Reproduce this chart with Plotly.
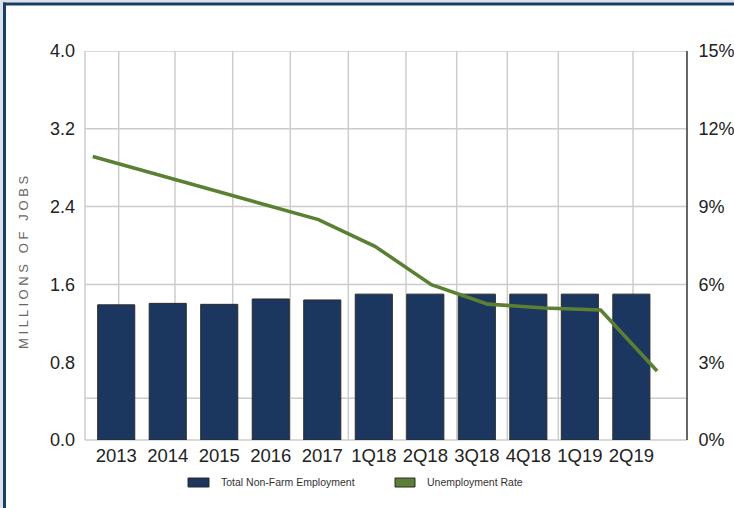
import plotly.graph_objects as go

categories = ["2013", "2014", "2015", "2016", "2017", "1Q18", "2Q18", "3Q18", "4Q18", "1Q19", "2Q19"]
employment = [1.39, 1.405, 1.395, 1.45, 1.44, 1.50, 1.50, 1.50, 1.50, 1.50, 1.50]
unemployment = [10.93, 10.32, 9.71, 9.10, 8.50, 7.47, 5.99, 5.24, 5.09, 5.01, 2.66]
left_ticks = [0.0, 0.8, 1.6, 2.4, 3.2, 4.0]
right_ticks = [0, 3, 6, 9, 12, 15]
series_names = ["Total Non-Farm Employment", "Unemployment Rate"]

W, H = 734, 508
L, R, T, B = 85, 47, 51, 68
PW, PH = W - L - R, H - T - B


def px(x):
    return (x - L) / PW


def py(y):
    return (H - B - y) / PH


BAR_COLOR = "#1b375f"
LINE_COLOR = "#5b8033"
GRID = "#cccccc"
FONT = "Liberation Sans, Arial, sans-serif"

fig = go.Figure()
fig.add_trace(go.Bar(
    x=categories, y=employment, name=series_names[0],
    marker=dict(color=BAR_COLOR, line=dict(color="#2b2b2b", width=1)),
    width=0.72, xaxis="x", yaxis="y", showlegend=False,
))
fig.add_trace(go.Scatter(
    x=categories, y=unemployment, name=series_names[1], mode="lines",
    line=dict(color=LINE_COLOR, width=3.6),
    xaxis="x2", yaxis="y2", showlegend=False,
))

shapes = []
# vertical grid lines (pixel positions of the reference grid)
for gx in [118.7, 175, 232.7, 290.3, 348.3, 406, 456.7, 507.3, 558.3, 633]:
    shapes.append(dict(type="line", xref="paper", yref="paper", x0=px(gx), x1=px(gx), y0=0, y1=1,
                       line=dict(color=GRID, width=1.5), layer="below"))
# horizontal grid lines
for gv in [0.43, 1.6, 2.4, 3.2, 4.0]:
    shapes.append(dict(type="line", xref="paper", yref="y", x0=0, x1=1, y0=gv, y1=gv,
                       line=dict(color=GRID, width=1.5), layer="below"))
# plot frame left / bottom (light), right axis (dark)
shapes.append(dict(type="line", xref="paper", yref="paper", x0=0, x1=0, y0=0, y1=1,
                   line=dict(color=GRID, width=1.5), layer="below"))
shapes.append(dict(type="line", xref="paper", yref="paper", x0=0, x1=1, y0=0, y1=0,
                   line=dict(color=GRID, width=1.5), layer="below"))
shapes.append(dict(type="line", xref="paper", yref="paper", x0=1, x1=1, y0=0, y1=1,
                   line=dict(color="#333333", width=1.5)))
# outer frame
shapes.append(dict(type="rect", xref="paper", yref="paper", x0=px(-5), x1=px(740), y0=py(-5), y1=py(2.5),
                   fillcolor="#dbe2ea", line=dict(width=0)))
shapes.append(dict(type="rect", xref="paper", yref="paper", x0=px(-5), x1=px(3), y0=py(515), y1=py(-5),
                   fillcolor="#dbe2ea", line=dict(width=0)))
shapes.append(dict(type="rect", xref="paper", yref="paper", x0=px(3), x1=px(740), y0=py(5.5), y1=py(2.5),
                   fillcolor="#1c3d63", line=dict(width=0)))
shapes.append(dict(type="rect", xref="paper", yref="paper", x0=px(3), x1=px(6), y0=py(515), y1=py(2.5),
                   fillcolor="#1c3d63", line=dict(width=0)))
# legend swatches
shapes.append(dict(type="rect", xref="paper", yref="paper", x0=px(188), x1=px(209), y0=py(487), y1=py(478),
                   fillcolor=BAR_COLOR, line=dict(color="#2b2b2b", width=1)))
shapes.append(dict(type="rect", xref="paper", yref="paper", x0=px(395), x1=px(415), y0=py(487), y1=py(478),
                   fillcolor=LINE_COLOR, line=dict(color="#2b2b2b", width=1)))

annotations = [
    dict(text=series_names[0], xref="paper", yref="paper", x=px(219), y=py(482.5), xanchor="left",
         yanchor="middle", showarrow=False, font=dict(family=FONT, size=10.5, color="#333333")),
    dict(text=series_names[1], xref="paper", yref="paper", x=px(425), y=py(482.5), xanchor="left",
         yanchor="middle", showarrow=False, font=dict(family=FONT, size=10.5, color="#333333")),
    dict(text="M I L L I O N S   O F   J O B S", xref="paper", yref="paper", x=px(23), y=py(263),
         textangle=-90, xanchor="center", yanchor="middle", showarrow=False,
         font=dict(family=FONT, size=13, color="#666666")),
]

fig.update_layout(
    width=W, height=H,
    margin=dict(l=L, r=R, t=T, b=B, pad=0, autoexpand=False),
    paper_bgcolor="white", plot_bgcolor="white",
    font=dict(family=FONT, size=18, color="#222222"),
    bargap=0.28,
    xaxis=dict(type="category", range=[-0.606, 11.08], showgrid=False, zeroline=False, showline=False,
               automargin=False, ticks="", tickfont=dict(size=18.5, color="#222222"),
               ticklabelstandoff=2),
    xaxis2=dict(type="category", overlaying="x", range=[-0.137, 10.53], visible=False, automargin=False),
    yaxis=dict(range=[0, 4], tickvals=left_ticks, ticktext=[f"{v:.1f}" for v in left_ticks],
               showgrid=False, zeroline=False, showline=False, automargin=False, ticks="",
               ticklabelstandoff=9, tickfont=dict(size=18, color="#222222")),
    yaxis2=dict(range=[0, 15], tickvals=right_ticks, ticktext=[f"{v}%" for v in right_ticks],
                overlaying="y", side="right", showgrid=False, zeroline=False, showline=False,
                automargin=False, ticks="outside", ticklen=7, tickcolor="rgba(0,0,0,0)",
                tickfont=dict(size=18, color="#222222")),
    shapes=shapes, annotations=annotations,
)

fig.write_html(
    "out.html",
    config={"displayModeBar": False},
    post_script="document.body.style.margin='0';document.body.style.overflow='hidden';",
)
